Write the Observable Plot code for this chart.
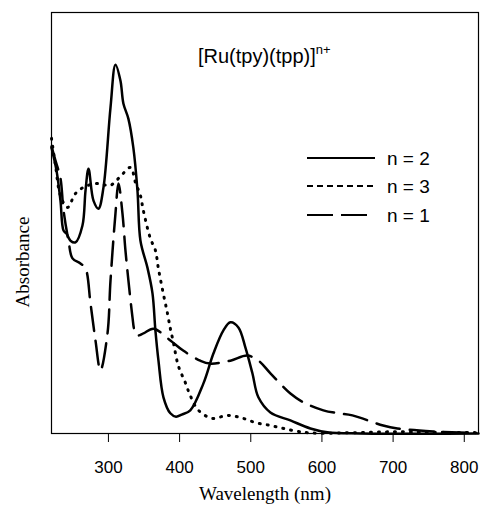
<!DOCTYPE html>
<html><head><meta charset="utf-8">
<script src="https://cdn.jsdelivr.net/npm/d3@7"></script>
<script src="https://cdn.jsdelivr.net/npm/@observablehq/plot@0.6"></script>
<style>body{margin:0;background:#fff}</style>
</head><body><div id="chart"></div>
<script>
// n = 2 (solid)
const n2 = [[220,0.679],[227,0.625],[232.6,0.553],[236.9,0.482],[241,0.475],[246.7,0.458],[253.7,0.454],[263.5,0.494],[267.8,0.577],[272,0.629],[279,0.553],[286,0.534],[293,0.584],[302.9,0.774],[309.9,0.876],[316.9,0.838],[321,0.784],[328,0.748],[335,0.679],[340.8,0.577],[345,0.458],[354.8,0.394],[361.9,0.333],[366,0.245],[370.3,0.173],[377.3,0.086],[387,0.048],[395,0.04],[403,0.045],[415,0.055],[433.5,0.119],[447.5,0.19],[461.6,0.245],[471.4,0.264],[482.6,0.252],[492.5,0.204],[502.3,0.143],[510.7,0.086],[527.6,0.05],[555.7,0.031],[583.8,0.012],[607.6,0.003],[654,0],[820,0]];
// n = 3 (dotted)
const n3 = [[220,0.701],[225.6,0.637],[232.6,0.565],[242.5,0.537],[253.7,0.570],[267.8,0.587],[286,0.594],[302,0.589],[315.5,0.608],[331,0.632],[338,0.596],[345,0.565],[349,0.530],[359,0.463],[366,0.435],[370,0.394],[377,0.333],[383,0.285],[387,0.249],[391,0.219],[398,0.162],[408,0.121],[415,0.090],[426.5,0.055],[446,0.036],[467,0.043],[485.5,0.038],[506.5,0.026],[527.6,0.019],[546,0.012],[565.5,0.005],[588,0.001],[700,0.004],[760,0.003],[820,0.002]];
// n = 1 (long dash)
const n1 = [[220,0.682],[225.6,0.648],[232.6,0.606],[236.9,0.530],[243.9,0.458],[249.5,0.416],[260.7,0.404],[267.8,0.392],[274.8,0.309],[281.8,0.221],[288.8,0.150],[298.7,0.238],[302.9,0.363],[309.9,0.523],[314.1,0.594],[319.7,0.523],[323.9,0.435],[328.1,0.363],[333.8,0.276],[336.6,0.245],[340.8,0.233],[349.2,0.238],[363.3,0.249],[387,0.221],[405,0.197],[429,0.173],[443,0.166],[471.4,0.173],[495,0.185],[510.7,0.173],[527.6,0.143],[555.7,0.095],[574,0.074],[602,0.055],[623,0.048],[642.8,0.043],[686,0.019],[706,0.012],[756.5,0.005],[818,0.001]];
const xTicks = [300,400,500,600,700,800];
const series = [
  {label:"n = 2", data:n2, dash:null, legendDash:null},
  {label:"n = 3", data:n3, dash:"1,7", legendDash:"6,4"},
  {label:"n = 1", data:n1, dash:"24,10", legendDash:"26,8"}
];
const toRows = d => d.map(([wl,a]) => ({wl, a}));

const plot = Plot.plot({
  width:480, height:505,
  marginLeft:51, marginRight:2, marginTop:12, marginBottom:72,
  x:{domain:[220,820]},
  y:{domain:[0,1], axis:null},
  style:{fontFamily:"Liberation Sans, Arial, sans-serif", fontSize:"17px", color:"#000", background:"#fff"},
  marks:[
    Plot.frame({stroke:"#000", strokeWidth:1.2}),
    Plot.axisX({ticks:xTicks, tickSize:9, tickPadding:18, label:null, fontSize:17}),
    ...series.map(s => Plot.line(toRows(s.data), {x:"wl", y:"a", stroke:"#000", strokeWidth: s.dash==="1,7" ? 3 : 2.5, strokeDasharray:s.dash, curve:"catmull-rom"}))
  ]
});
document.getElementById("chart").append(plot);

const svg = d3.select(plot);
const sans = "Liberation Sans, Arial, sans-serif", serif = "Liberation Serif, Times New Roman, serif";
// title
const t = svg.append("text").attr("x",198).attr("y",63).attr("text-anchor","start")
  .style("font-family",sans).style("font-size","20px").attr("fill","#000");
t.append("tspan").text("[Ru(tpy)(tpp)]");
t.append("tspan").attr("dy",-9).style("font-size","13px").text("n+");
// legend
const ly = [158,186,215];
series.forEach((s,i)=>{
  svg.append("line").attr("x1",307).attr("x2",375).attr("y1",ly[i]).attr("y2",ly[i])
    .attr("stroke","#000").attr("stroke-width",2).attr("stroke-dasharray",s.legendDash);
  svg.append("text").attr("x",387).attr("y",ly[i]).attr("dy","0.35em").attr("text-anchor","start")
    .style("font-family",sans).style("font-size","19px").attr("fill","#000").text(s.label);
});
// axis labels
svg.append("text").attr("x",265).attr("y",500).attr("text-anchor","middle")
  .style("font-family",serif).style("font-size","19px").attr("fill","#000").text("Wavelength (nm)");
svg.append("text").attr("transform","translate(29,262) rotate(-90)").attr("text-anchor","middle")
  .style("font-family",serif).style("font-size","19px").attr("fill","#000").text("Absorbance");
</script>
</body></html>
